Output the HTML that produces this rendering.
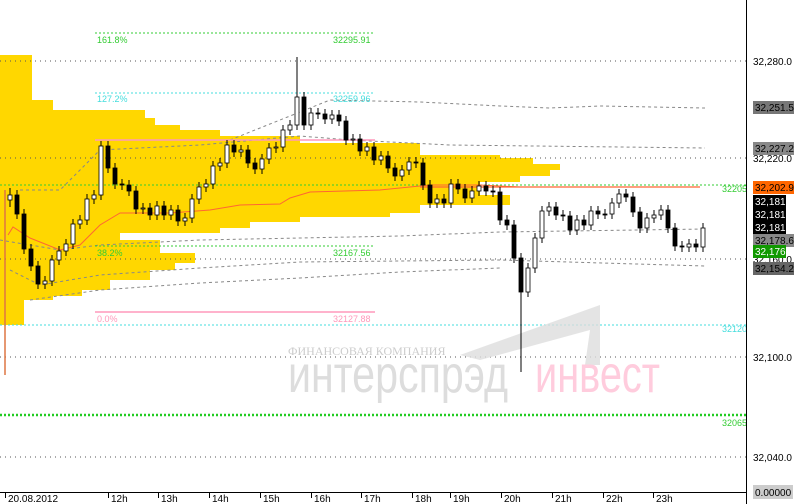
<!DOCTYPE html>
<html><head><meta charset="utf-8"><style>
html,body{margin:0;padding:0;background:#fff;}
svg{display:block;font-family:"Liberation Sans",sans-serif;}
.w{fill:#fff;stroke:#000;stroke-width:0.8}
.b{fill:#000;stroke:#000;stroke-width:0.8}
</style></head><body>
<svg width="800" height="504" viewBox="0 0 800 504" xmlns="http://www.w3.org/2000/svg">
<rect width="800" height="504" fill="#fff"/>
<polygon fill="#FFD700" points="0,55 32,55 32,100 53,100 53,110 145,110 145,118 155,118 155,125 180,125 180,130 220,130 220,136 300,136 300,143 420,143 420,155 500,155 500,158 533,158 533,164 560,164 560,170 550,170 550,176 520,176 520,182 480,182 480,195 510,195 510,205 420,205 420,213 390,213 390,217 300,217 300,222 250,222 250,228 220,228 220,233 120,233 120,240 160,240 160,253 195,253 195,263 175,263 175,270 150,270 150,280 110,280 110,290 82,290 82,296 53,296 53,300 24,300 24,325 0,325"/>
<g stroke="#555" stroke-dasharray="1,4" stroke-width="1">
<line x1="0" y1="61" x2="746" y2="61"/><line x1="0" y1="158" x2="746" y2="158"/>
<line x1="0" y1="259" x2="746" y2="259"/><line x1="0" y1="357" x2="746" y2="357"/>
<line x1="0" y1="457" x2="746" y2="457"/>
</g>
<g fill="none" stroke="#888" stroke-dasharray="3,3" stroke-width="1">
<polyline points="230,140 300,112 330,100 420,102 500,106 550,108 600,106 705,108"/>
<polyline points="20,190 60,190 100,150 200,145 300,136 350,140 450,145 705,148"/>
<polyline points="0,240 60,250 100,245 200,240 300,238 400,236 500,232 705,229"/>
<polyline points="10,270 40,285 100,275 200,268 300,262 500,260 705,266"/>
<polyline points="30,300 100,290 200,283 300,278 400,272 500,268"/>
</g>
<line x1="95" y1="33" x2="375" y2="33" stroke="#3c3" stroke-dasharray="2,2"/>
<text x="97" y="43" font-size="9" fill="#3c3">161.8%</text><text x="333" y="43" font-size="9" fill="#3c3">32295.91</text>
<line x1="95" y1="93" x2="375" y2="93" stroke="#4dd" stroke-dasharray="2,2"/>
<text x="97" y="102" font-size="9" fill="#4dd">127.2%</text><text x="333" y="102" font-size="9" fill="#4dd">32259.96</text>
<line x1="95" y1="140" x2="375" y2="140" stroke="#f9b" stroke-width="1.5"/>
<line x1="95" y1="246" x2="375" y2="246" stroke="#3c3" stroke-dasharray="2,2"/>
<text x="97" y="256" font-size="9" fill="#3c3">38.2%</text><text x="333" y="256" font-size="9" fill="#3c3">32167.56</text>
<line x1="95" y1="312" x2="375" y2="312" stroke="#f9b" stroke-width="1.5"/>
<text x="97" y="322" font-size="9" fill="#f9b">0.0%</text><text x="333" y="322" font-size="9" fill="#f9b">32127.88</text>
<line x1="0" y1="185" x2="746" y2="185" stroke="#3c3" stroke-dasharray="2,2"/>
<text x="722" y="192" font-size="9" fill="#3c3">32205</text>
<line x1="0" y1="325" x2="746" y2="325" stroke="#4dd" stroke-dasharray="2,2"/>
<text x="722" y="332" font-size="9" fill="#4dd">32120</text>
<line x1="0" y1="415" x2="746" y2="415" stroke="#2c2" stroke-dasharray="2,2" stroke-width="2.5"/>
<text x="722" y="426" font-size="9" fill="#3c3">32065</text>
<polygon fill="#ddd" opacity="0.8" points="460,355 600,305 600,365 585,365 590,330 480,360"/>
<text x="288" y="355" font-size="12" fill="#ccc" font-family="Liberation Serif,serif">ФИНАНСОВАЯ КОМПАНИЯ</text>
<text x="288" y="392" font-size="52" fill="#ddd" textLength="220" lengthAdjust="spacingAndGlyphs">интерспрэд</text>
<text x="535" y="392" font-size="52" fill="#fcd" textLength="125" lengthAdjust="spacingAndGlyphs">инвест</text>
<polyline fill="none" stroke="#f63" stroke-width="1" points="8,235 13,227 30,238 60,250 80,245 100,225 120,213 170,213 210,210 240,205 280,204 290,198 310,192 380,190 430,185 480,185 520,187"/>
<line x1="420" y1="187" x2="700" y2="187" stroke="#f63" stroke-width="1.2"/>
<line x1="5" y1="190" x2="5" y2="375" stroke="#d74" stroke-width="1.5"/>
<path fill="none" stroke="#000" stroke-width="1" d="M10 188V207M17 190V219M24 209V254M31 244V271M38 261V289M45 276V289M52 255V286M59 246V265M66 239V256M73 219V249M80 215V229M87 194V225M94 190V204M101 141V200M108 141V173M115 163V189M122 179V190M129 180V196M136 186V214M143 203V214M150 203V220M157 201V220M164 201V220M171 205V220M178 205V226M185 213V226M192 194V223M199 182V204M206 179V192M213 161V189M220 158V171M227 140V168M234 140V157M241 145V157M248 145V168M255 158V174M262 154V174M269 143V164M276 142V153M283 125V152M290 120V135M297 57V130M304 92V130M311 108V130M318 108V119M325 109V124M332 110V124M339 110V126M346 116V145M353 134V145M360 134V156M367 142V156M374 142V165M381 151V165M388 151V173M395 163V181M402 165V181M409 157V175M416 157V168M423 158V190M430 180V208M437 194V208M444 194V208M451 179V208M458 179V194M465 184V203M472 186V203M479 181V196M486 181V196M493 186V197M500 187V225M507 215V230M514 220V263M521 253V372M528 263V297M535 233V273M542 206V243M549 202V216M556 202V220M563 210V221M570 211V235M577 215V235M584 215V230M591 206V230M598 206V219M605 209V219M612 198V219M619 189V208M626 189V202M633 192V217M640 207V233M647 213V233M654 210V223M661 205V220M668 205V233M675 223V251M682 241V252M689 239V252M696 239V252M703 223V252"/>
<g>
<rect class="w" x="8" y="195" width="4" height="5"/>
<rect class="b" x="15" y="195" width="4" height="19"/>
<rect class="b" x="22" y="214" width="4" height="35"/>
<rect class="b" x="29" y="249" width="4" height="17"/>
<rect class="b" x="36" y="266" width="4" height="18"/>
<rect class="w" x="43" y="281" width="4" height="3"/>
<rect class="w" x="50" y="260" width="4" height="21"/>
<rect class="w" x="57" y="251" width="4" height="9"/>
<rect class="w" x="64" y="244" width="4" height="7"/>
<rect class="w" x="71" y="224" width="4" height="20"/>
<rect class="w" x="78" y="220" width="4" height="4"/>
<rect class="w" x="85" y="199" width="4" height="21"/>
<rect class="w" x="92" y="195" width="4" height="4"/>
<rect class="w" x="99" y="146" width="4" height="49"/>
<rect class="b" x="106" y="146" width="4" height="22"/>
<rect class="b" x="113" y="168" width="4" height="16"/>
<rect class="b" x="120" y="184" width="4" height="1"/>
<rect class="b" x="127" y="185" width="4" height="6"/>
<rect class="b" x="134" y="191" width="4" height="18"/>
<rect class="w" x="141" y="208" width="4" height="1"/>
<rect class="b" x="148" y="208" width="4" height="7"/>
<rect class="w" x="155" y="206" width="4" height="9"/>
<rect class="b" x="162" y="206" width="4" height="9"/>
<rect class="w" x="169" y="210" width="4" height="5"/>
<rect class="b" x="176" y="210" width="4" height="11"/>
<rect class="w" x="183" y="218" width="4" height="3"/>
<rect class="w" x="190" y="199" width="4" height="19"/>
<rect class="w" x="197" y="187" width="4" height="12"/>
<rect class="w" x="204" y="184" width="4" height="3"/>
<rect class="w" x="211" y="166" width="4" height="18"/>
<rect class="w" x="218" y="163" width="4" height="3"/>
<rect class="w" x="225" y="145" width="4" height="18"/>
<rect class="b" x="232" y="145" width="4" height="7"/>
<rect class="w" x="239" y="150" width="4" height="2"/>
<rect class="b" x="246" y="150" width="4" height="13"/>
<rect class="b" x="253" y="163" width="4" height="6"/>
<rect class="w" x="260" y="159" width="4" height="10"/>
<rect class="w" x="267" y="148" width="4" height="11"/>
<rect class="w" x="274" y="147" width="4" height="1"/>
<rect class="w" x="281" y="130" width="4" height="17"/>
<rect class="w" x="288" y="125" width="4" height="5"/>
<rect class="w" x="295" y="97" width="4" height="28"/>
<rect class="b" x="302" y="97" width="4" height="28"/>
<rect class="w" x="309" y="113" width="4" height="12"/>
<rect class="b" x="316" y="113" width="4" height="1"/>
<rect class="b" x="323" y="114" width="4" height="5"/>
<rect class="w" x="330" y="115" width="4" height="4"/>
<rect class="b" x="337" y="115" width="4" height="6"/>
<rect class="b" x="344" y="121" width="4" height="19"/>
<rect class="w" x="351" y="139" width="4" height="1"/>
<rect class="b" x="358" y="139" width="4" height="12"/>
<rect class="w" x="365" y="147" width="4" height="4"/>
<rect class="b" x="372" y="147" width="4" height="13"/>
<rect class="w" x="379" y="156" width="4" height="4"/>
<rect class="b" x="386" y="156" width="4" height="12"/>
<rect class="b" x="393" y="168" width="4" height="8"/>
<rect class="w" x="400" y="170" width="4" height="6"/>
<rect class="w" x="407" y="162" width="4" height="8"/>
<rect class="b" x="414" y="162" width="4" height="1"/>
<rect class="b" x="421" y="163" width="4" height="22"/>
<rect class="b" x="428" y="185" width="4" height="18"/>
<rect class="w" x="435" y="199" width="4" height="4"/>
<rect class="b" x="442" y="199" width="4" height="4"/>
<rect class="w" x="449" y="184" width="4" height="19"/>
<rect class="b" x="456" y="184" width="4" height="5"/>
<rect class="b" x="463" y="189" width="4" height="9"/>
<rect class="w" x="470" y="191" width="4" height="7"/>
<rect class="w" x="477" y="186" width="4" height="5"/>
<rect class="b" x="484" y="186" width="4" height="5"/>
<rect class="b" x="491" y="191" width="4" height="1"/>
<rect class="b" x="498" y="192" width="4" height="28"/>
<rect class="b" x="505" y="220" width="4" height="5"/>
<rect class="b" x="512" y="225" width="4" height="33"/>
<rect class="b" x="519" y="258" width="4" height="34"/>
<rect class="w" x="526" y="268" width="4" height="24"/>
<rect class="w" x="533" y="238" width="4" height="30"/>
<rect class="w" x="540" y="211" width="4" height="27"/>
<rect class="w" x="547" y="207" width="4" height="4"/>
<rect class="b" x="554" y="207" width="4" height="8"/>
<rect class="b" x="561" y="215" width="4" height="1"/>
<rect class="b" x="568" y="216" width="4" height="14"/>
<rect class="w" x="575" y="220" width="4" height="10"/>
<rect class="b" x="582" y="220" width="4" height="5"/>
<rect class="w" x="589" y="211" width="4" height="14"/>
<rect class="b" x="596" y="211" width="4" height="3"/>
<rect class="b" x="603" y="214" width="4" height="1"/>
<rect class="w" x="610" y="203" width="4" height="11"/>
<rect class="w" x="617" y="194" width="4" height="9"/>
<rect class="b" x="624" y="194" width="4" height="3"/>
<rect class="b" x="631" y="197" width="4" height="15"/>
<rect class="b" x="638" y="212" width="4" height="16"/>
<rect class="w" x="645" y="218" width="4" height="10"/>
<rect class="w" x="652" y="215" width="4" height="3"/>
<rect class="w" x="659" y="210" width="4" height="5"/>
<rect class="b" x="666" y="210" width="4" height="18"/>
<rect class="b" x="673" y="228" width="4" height="18"/>
<rect class="b" x="680" y="246" width="4" height="1"/>
<rect class="w" x="687" y="244" width="4" height="3"/>
<rect class="b" x="694" y="244" width="4" height="3"/>
<rect class="w" x="701" y="228" width="4" height="19"/>
</g>
<line x1="746.5" y1="0" x2="746.5" y2="504" stroke="#000"/>
<line x1="0" y1="492.5" x2="746" y2="492.5" stroke="#000"/>
<g font-size="10" fill="#000">
<text x="753" y="65">32,280.0</text><text x="753" y="162">32,220.0</text>
<text x="753" y="263">32,160.0</text><text x="753" y="361">32,100.0</text><text x="753" y="461">32,040.0</text>
</g>
<g font-size="10">
<rect x="753" y="101" width="41" height="13" fill="#777"/><text x="755" y="111" fill="#000">32,251.5</text>
<rect x="753" y="142" width="41" height="13" fill="#888"/><text x="755" y="152" fill="#000">32,227.2</text>
<rect x="753" y="181" width="41" height="13" fill="#f60"/><text x="755" y="191" fill="#000">32,202.9</text>
<rect x="753" y="195" width="33" height="13" fill="#000"/><text x="755" y="205" fill="#fff">32,181</text>
<rect x="753" y="208" width="33" height="13" fill="#000"/><text x="755" y="218" fill="#fff">32,181</text>
<rect x="753" y="221" width="33" height="13" fill="#000"/><text x="755" y="231" fill="#fff">32,181</text>
<rect x="753" y="234" width="41" height="13" fill="#888"/><text x="755" y="244" fill="#000">32,178.6</text>
<rect x="753" y="245" width="33" height="13" fill="#190"/><text x="755" y="255" fill="#fff">32,176</text>
<rect x="753" y="262" width="41" height="13" fill="#666"/><text x="755" y="272" fill="#000">32,154.2</text>
<rect x="753" y="485" width="40" height="14" fill="#ccc"/><text x="755" y="496" fill="#000">0.00000</text>
</g>
<g stroke="#000">
<path d="M5.5 492V498M108.5 492V498M158.5 492V498M209.5 492V498M260.5 492V498M311.5 492V498M361.5 492V498M412.5 492V498M450.5 492V498M501.5 492V498M552.5 492V498M603.5 492V498M653.5 492V498"/>
</g>
<g font-size="10" fill="#000">
<text x="8" y="502">20.08.2012</text><text x="111" y="502">12h</text><text x="161" y="502">13h</text><text x="212" y="502">14h</text><text x="263" y="502">15h</text><text x="314" y="502">16h</text><text x="364" y="502">17h</text><text x="415" y="502">18h</text><text x="453" y="502">19h</text><text x="504" y="502">20h</text><text x="555" y="502">21h</text><text x="606" y="502">22h</text><text x="656" y="502">23h</text>
</g>
</svg>
</body></html>
